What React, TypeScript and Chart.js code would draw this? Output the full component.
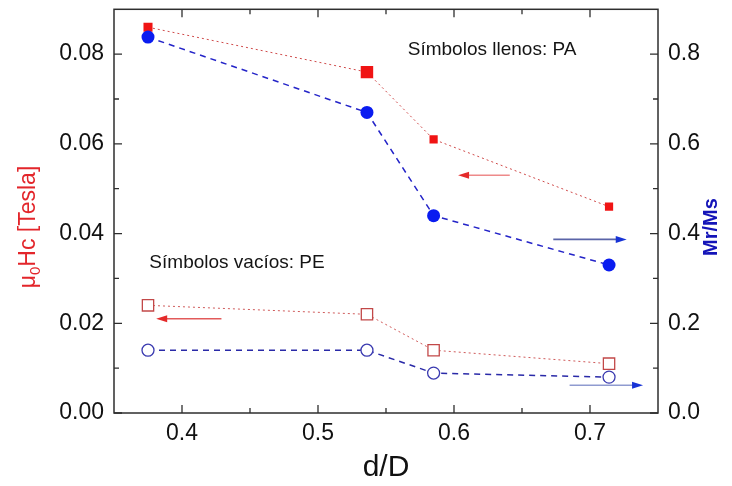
import React, { useEffect, useRef } from 'react';
import { Chart, registerables } from 'chart.js';

Chart.register(...registerables);

// ---- data ----
const dD = [0.375, 0.536, 0.585, 0.714];
const hcPA = [0.086, 0.076, 0.061, 0.046];
const mrPA = [0.838, 0.67, 0.44, 0.33];
const hcPE = [0.024, 0.022, 0.014, 0.011];
const mrPE = [0.14, 0.14, 0.089, 0.08];

const xTicks = [0.4, 0.5, 0.6, 0.7];
const xMinor = [0.45, 0.55, 0.65];
const yTicks = [0, 0.02, 0.04, 0.06, 0.08];
const yMinor = [0.01, 0.03, 0.05, 0.07];
const y2Ticks = [0, 0.2, 0.4, 0.6, 0.8];
const y2Minor = [0.1, 0.3, 0.5, 0.7];

// arrows: [xFrom, xTo, y]
const arrowHcPA = [0.641, 0.603, 0.053];
const arrowMrPA = [0.673, 0.727, 0.387];
const arrowHcPE = [0.429, 0.381, 0.021];
const arrowMrPE = [0.685, 0.739, 0.062];

// annotations: [x, y]
const notePA = [0.566, 0.081];
const notePE = [0.376, 0.0334];
const notePAText = 'Símbolos llenos: PA';
const notePEText = 'Símbolos vacíos: PE';

const FONT = '"Liberation Sans", Arial, Helvetica, sans-serif';

const decor = {
  id: 'decor',
  afterDatasetsDraw(chart: any) {
    const { ctx, scales } = chart;
    const xs = scales.x, ys = scales.y, y2s = scales.y2;
    ctx.save();
    ctx.setLineDash([]);

    const drawArrow = (vs: any, arr: number[], shaft: string, head: string) => {
      const px0 = xs.getPixelForValue(arr[0]);
      const px1 = xs.getPixelForValue(arr[1]);
      const py = vs.getPixelForValue(arr[2]);
      const dir = Math.sign(px1 - px0);
      ctx.strokeStyle = shaft;
      ctx.lineWidth = 1.6;
      ctx.beginPath();
      ctx.moveTo(px0, py);
      ctx.lineTo(px1 - dir * 8, py);
      ctx.stroke();
      ctx.fillStyle = head;
      ctx.beginPath();
      ctx.moveTo(px1, py);
      ctx.lineTo(px1 - dir * 11, py - 3.5);
      ctx.lineTo(px1 - dir * 11, py + 3.5);
      ctx.closePath();
      ctx.fill();
    };
    drawArrow(ys, arrowHcPA, '#ee8a8a', '#e42a2a');
    drawArrow(y2s, arrowMrPA, '#5a64a8', '#1733d6');
    drawArrow(ys, arrowHcPE, '#e25a5a', '#e42a2a');
    drawArrow(y2s, arrowMrPE, '#8f9bd0', '#1733d6');

    // annotations
    ctx.font = '19px ' + FONT;
    ctx.fillStyle = '#141414';
    ctx.textAlign = 'left';
    ctx.textBaseline = 'middle';
    ctx.fillText(notePAText, xs.getPixelForValue(notePA[0]), ys.getPixelForValue(notePA[1]));
    ctx.fillText(notePEText, xs.getPixelForValue(notePE[0]), ys.getPixelForValue(notePE[1]));
    ctx.restore();
  },
  afterDraw(chart: any) {
    const { ctx, chartArea: a, scales } = chart;
    const xs = scales.x, ys = scales.y, y2s = scales.y2;
    ctx.save();
    ctx.setLineDash([]);
    // frame
    ctx.strokeStyle = '#2e2e2e';
    ctx.lineWidth = 1.5;
    ctx.strokeRect(a.left, a.top, a.right - a.left, a.bottom - a.top);

    // inward ticks
    ctx.lineWidth = 1.3;
    ctx.beginPath();
    const hTick = (v: number, len: number) => {
      const px = xs.getPixelForValue(v);
      ctx.moveTo(px, a.bottom);
      ctx.lineTo(px, a.bottom - len);
      ctx.moveTo(px, a.top);
      ctx.lineTo(px, a.top + len);
    };
    xTicks.forEach((v) => hTick(v, 8));
    xMinor.forEach((v) => hTick(v, 5));
    yTicks.forEach((v) => {
      const py = ys.getPixelForValue(v);
      ctx.moveTo(a.left, py);
      ctx.lineTo(a.left + 8, py);
    });
    yMinor.forEach((v) => {
      const py = ys.getPixelForValue(v);
      ctx.moveTo(a.left, py);
      ctx.lineTo(a.left + 5, py);
    });
    y2Ticks.forEach((v) => {
      const py = y2s.getPixelForValue(v);
      ctx.moveTo(a.right, py);
      ctx.lineTo(a.right - 8, py);
    });
    y2Minor.forEach((v) => {
      const py = y2s.getPixelForValue(v);
      ctx.moveTo(a.right, py);
      ctx.lineTo(a.right - 5, py);
    });
    ctx.stroke();

    // left title: μ0Hc [Tesla]
    const cy = a.bottom - 186;
    ctx.save();
    ctx.translate(0, cy);
    ctx.rotate(-Math.PI / 2);
    ctx.fillStyle = '#e3262b';
    ctx.textBaseline = 'alphabetic';
    ctx.textAlign = 'left';
    const big = '23px ' + FONT;
    const small = '15px ' + FONT;
    ctx.font = big;
    const w1 = ctx.measureText('μ').width;
    const w3 = ctx.measureText('Hc [Tesla]').width;
    ctx.font = small;
    const w2 = ctx.measureText('0').width;
    let u = -(w1 + w2 + w3) / 2;
    const base = 35;
    ctx.font = big;
    ctx.fillText('μ', u, base);
    u += w1;
    ctx.font = small;
    ctx.fillText('0', u, base + 5);
    u += w2;
    ctx.font = big;
    ctx.fillText('Hc [Tesla]', u, base);
    ctx.restore();

    // right title: Mr/Ms
    ctx.save();
    ctx.translate(711, a.bottom - 186);
    ctx.rotate(-Math.PI / 2);
    ctx.fillStyle = '#1414b8';
    ctx.font = 'bold 20px ' + FONT;
    ctx.textAlign = 'center';
    ctx.textBaseline = 'middle';
    ctx.fillText('Mr/Ms', 0, 0);
    ctx.restore();

    ctx.restore();
  },
};

function fixedSize(w: number | null, h: number | null) {
  return (scale: any) => {
    if (w !== null) scale.width = w;
    if (h !== null) scale.height = h;
    scale.paddingTop = 0;
    scale.paddingBottom = 0;
    scale.paddingLeft = 0;
    scale.paddingRight = 0;
  };
}

export default function App() {
  const ref = useRef<HTMLCanvasElement | null>(null);
  useEffect(() => {
    if (!ref.current) return;
    const pts = (ys: number[]) => dD.map((x, i) => ({ x, y: ys[i] }));
    const chart = new Chart(ref.current, {
      type: 'line',
      data: {
        datasets: [
          {
            label: 'Mr/Ms PA',
            data: pts(mrPA),
            yAxisID: 'y2',
            borderColor: '#2424c8',
            borderWidth: 1.5,
            borderDash: [6, 5],
            pointStyle: 'circle',
            pointRadius: 6.5,
            pointBackgroundColor: '#0a1cf0',
            pointBorderColor: '#0a1cf0',
            pointBorderWidth: 0,
          },
          {
            label: 'Mr/Ms PE',
            data: pts(mrPE),
            yAxisID: 'y2',
            borderColor: '#2a2aa8',
            borderWidth: 1.5,
            borderDash: [6, 5],
            pointStyle: 'circle',
            pointRadius: 6,
            pointBackgroundColor: '#ffffff',
            pointBorderColor: '#3a3ab0',
            pointBorderWidth: 1.3,
          },
          {
            label: 'Hc PA',
            data: pts(hcPA),
            yAxisID: 'y',
            borderColor: '#cf4a4a',
            borderWidth: 1,
            borderDash: [2, 3],
            pointStyle: 'rect',
            pointRadius: [6.4, 8.8, 5.8, 5.8],
            pointBackgroundColor: '#f01414',
            pointBorderColor: '#f01414',
            pointBorderWidth: 0,
          },
          {
            label: 'Hc PE',
            data: pts(hcPE),
            yAxisID: 'y',
            borderColor: '#cf5a5a',
            borderWidth: 1,
            borderDash: [2, 3],
            pointStyle: 'rect',
            pointRadius: 8,
            pointBackgroundColor: '#ffffff',
            pointBorderColor: '#c24848',
            pointBorderWidth: 1.3,
          },
        ],
      },
      options: {
        responsive: false,
        animation: false,
        events: [],
        layout: { padding: { top: 7, left: 0, right: 0, bottom: 0 } },
        plugins: {
          legend: { display: false },
          tooltip: { enabled: false },
        },
        scales: {
          x: {
            type: 'linear',
            position: 'bottom',
            min: 0.35,
            max: 0.75,
            grid: { display: false, drawTicks: false },
            border: { display: false },
            afterBuildTicks: (s: any) => {
              s.ticks = xTicks.map((value) => ({ value }));
            },
            afterFit: fixedSize(null, 73),
            ticks: {
              padding: 7,
              color: '#111',
              font: { family: FONT, size: 23 },
              callback: (v: any) => Number(v).toFixed(1),
            },
            title: {
              display: true,
              text: 'd/D',
              color: '#111',
              font: { family: FONT, size: 30 },
              padding: { top: 0, bottom: 0 },
            },
          },
          y: {
            type: 'linear',
            position: 'left',
            min: 0,
            max: 0.09,
            grid: { display: false, drawTicks: false },
            border: { display: false },
            afterBuildTicks: (s: any) => {
              s.ticks = yTicks.map((value) => ({ value }));
            },
            afterFit: fixedSize(114, null),
            ticks: {
              padding: 10,
              color: '#111',
              font: { family: FONT, size: 23 },
              callback: (v: any) => Number(v).toFixed(2),
            },
          },
          y2: {
            type: 'linear',
            position: 'right',
            min: 0,
            max: 0.9,
            grid: { display: false, drawTicks: false },
            border: { display: false },
            afterBuildTicks: (s: any) => {
              s.ticks = y2Ticks.map((value) => ({ value }));
            },
            afterFit: fixedSize(74, null),
            ticks: {
              padding: 10,
              color: '#111',
              font: { family: FONT, size: 23 },
              callback: (v: any) => Number(v).toFixed(1),
            },
          },
        },
      },
      plugins: [decor],
    } as any);
    return () => chart.destroy();
  }, []);

  return (
    <div style={{ position: 'fixed', left: 0, top: 0, width: 732, height: 486, background: '#fff' }}>
      <canvas ref={ref} width={732} height={486} style={{ display: 'block' }} />
    </div>
  );
}
